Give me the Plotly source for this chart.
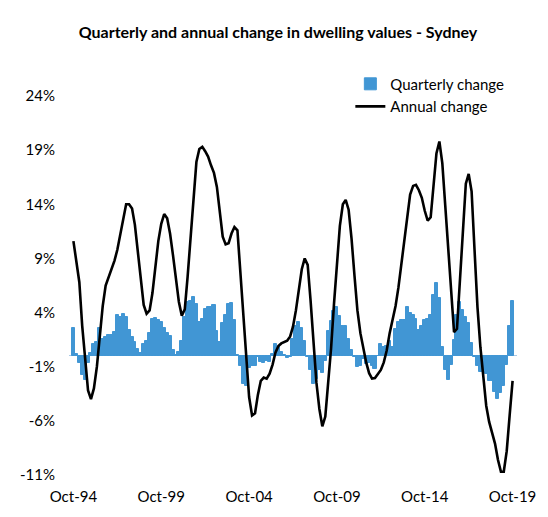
import pandas as pd
import plotly.graph_objects as go

# Bi-monthly observations, Oct-94 .. Oct-19
dates = pd.date_range("1994-10-01", periods=151, freq="2MS")

annual_change = [
    10.6, 8.5, 6.8, 2.8, -0.5, -3.2, -4.0, -3.0, -1.0, 2.0,
    4.6, 6.5, 7.3, 8.2, 8.8, 9.8, 11.1, 12.6, 14.0, 14.0,
    13.6, 12.1, 9.8, 7.3, 4.7, 3.9, 4.2, 5.8, 8.1, 10.6,
    12.2, 13.1, 12.7, 11.3, 9.3, 7.0, 5.0, 3.7, 4.3, 7.3,
    11.1, 15.0, 17.9, 19.1, 19.3, 18.9, 18.4, 17.6, 16.9, 15.6,
    13.3, 11.0, 10.3, 10.4, 11.3, 11.9, 11.6, 7.7, 3.2, -0.5,
    -3.8, -5.5, -5.3, -3.6, -2.3, -2.0, -2.1, -1.65, -0.8, 0.3,
    0.9, 1.15, 1.25, 1.4, 1.8, 2.7, 4.2, 6.1, 8.0, 9.0,
    8.4, 5.1, 0.9, -2.5, -4.9, -6.5, -5.6, -2.6, 0.7, 4.8,
    8.8, 12.0, 14.0, 14.4, 13.5, 10.8, 7.4, 4.2, 2.1, 0.7,
    -0.6, -1.6, -2.1, -2.05, -1.7, -1.3, -0.6, 0.5, 2.1, 3.3,
    4.6, 6.3, 8.4, 10.8, 13.1, 14.9, 15.7, 15.8, 15.3, 14.6,
    13.4, 12.5, 12.8, 15.9, 18.7, 19.8, 17.8, 13.9, 9.8, 5.6,
    2.2, 2.5, 6.8, 12.2, 15.9, 16.8, 15.2, 9.8, 4.5, 0.8,
    -2.1, -4.6, -6.1, -7.0, -8.1, -9.6, -10.7, -10.7, -8.8, -5.5,
    -2.3,
]

quarterly_change = [
    2.6, 0.2, -0.7, -1.8, -2.2, -0.7, 0.3, 1.1, 1.3, 2.6,
    1.6, 1.7, 1.9, 1.9, 2.2, 3.8, 3.6, 3.9, 3.6, 2.4,
    1.7, 1.3, 0.6, 0.3, 1.1, 1.4, 2.1, 3.4, 3.5, 3.3,
    3.1, 2.6, 2.1, 1.8, 0.5, 0.05, 0.4, 1.4, 3.6, 5.0,
    5.1, 5.4, 4.8, 3.1, 3.4, 4.3, 4.5, 4.5, 4.7, 2.3,
    1.3, 3.0, 3.8, 4.8, 4.9, 3.3, 0.1, -0.9, -2.6, -2.8,
    -1.1, -0.9, -0.9, -0.1, -0.6, -0.7, -0.5, -0.6, 0.2, 1.1,
    0.8, 0.35, 0.1, -0.2, -0.1, 1.6, 2.8, 3.1, 2.6, 1.4,
    -0.1, -1.3, -2.6, -2.1, -1.3, -1.6, -0.5, 2.3, 3.2, 4.1,
    4.5, 3.7, 2.8, 2.8, 1.6, 0.5, -0.1, -1.0, -0.9, -0.3,
    -0.75, -0.7, -0.9, -1.2, 0.0, 1.1, 0.8, 0.9, 1.4, 0.8,
    2.5, 3.1, 3.3, 3.3, 4.5, 4.0, 3.8, 3.4, 2.4, 2.8,
    3.3, 3.4, 3.8, 5.6, 6.7, 5.3, 0.8, -1.3, -2.2, -0.8,
    1.5, 3.8, 5.0, 4.2, 3.6, 3.0, 1.2, -0.1, -0.9, -1.5,
    -1.5, -1.7, -2.3, -2.3, -3.3, -4.0, -3.4, -2.8, -0.8, 2.8,
    5.1,
]

y_ticks = [-11, -6, -1, 4, 9, 14, 19, 24]
x_ticks = ["1994-10-01", "1999-10-01", "2004-10-01", "2009-10-01", "2014-10-01", "2019-10-01"]
x_labels = ["Oct-94", "Oct-99", "Oct-04", "Oct-09", "Oct-14", "Oct-19"]

FONT = "Lato"
BAR_COLOR = "#4196D4"
BAR_WIDTH_MS = [64 * 24 * 3600 * 1000] * len(dates)

fig = go.Figure()
fig.add_trace(go.Bar(
    x=dates, y=quarterly_change, name="Quarterly change",
    width=BAR_WIDTH_MS,
    marker=dict(color=BAR_COLOR, line=dict(width=1, color=BAR_COLOR)),
))
fig.add_trace(go.Scatter(
    x=dates, y=annual_change, name="Annual change", mode="lines",
    line=dict(color="black", width=2.6),
))

fig.update_layout(
    width=540, height=509,
    margin=dict(l=50, r=30, t=88, b=39),
    paper_bgcolor="white", plot_bgcolor="white",
    bargap=0, bargroupgap=0, barmode="overlay",
    font=dict(family=FONT, color="black", size=15),
    title=dict(
        text="<b>Quarterly and annual change in dwelling values - Sydney</b>",
        x=0.5, xanchor="center", xref="container",
        y=1 - 24 / 509, yanchor="middle", yref="container",
        font=dict(family=FONT, size=16, color="black"),
    ),
    showlegend=True,
    legend=dict(
        x=0.628, y=1.075, xanchor="left", yanchor="top",
        bgcolor="rgba(0,0,0,0)", font=dict(family=FONT, size=15),
        tracegroupgap=0, itemwidth=30,
    ),
    xaxis=dict(
        type="date",
        range=["1994-07-01", "2020-01-01"],
        tickvals=x_ticks, ticktext=x_labels,
        showgrid=False, zeroline=False, showline=False,
        ticks="outside", ticklen=8, tickcolor="rgba(0,0,0,0)",
        tickfont=dict(family=FONT, size=15),
    ),
    yaxis=dict(
        range=[-11, 24],
        tickvals=y_ticks, ticktext=[f"{v}%" for v in y_ticks],
        showgrid=False, showline=False,
        zeroline=True, zerolinecolor="#a9c9e6", zerolinewidth=1,
        ticks="outside", ticklen=10, tickcolor="rgba(0,0,0,0)",
        tickfont=dict(family=FONT, size=15),
    ),
)

fig.write_html("out.html")
